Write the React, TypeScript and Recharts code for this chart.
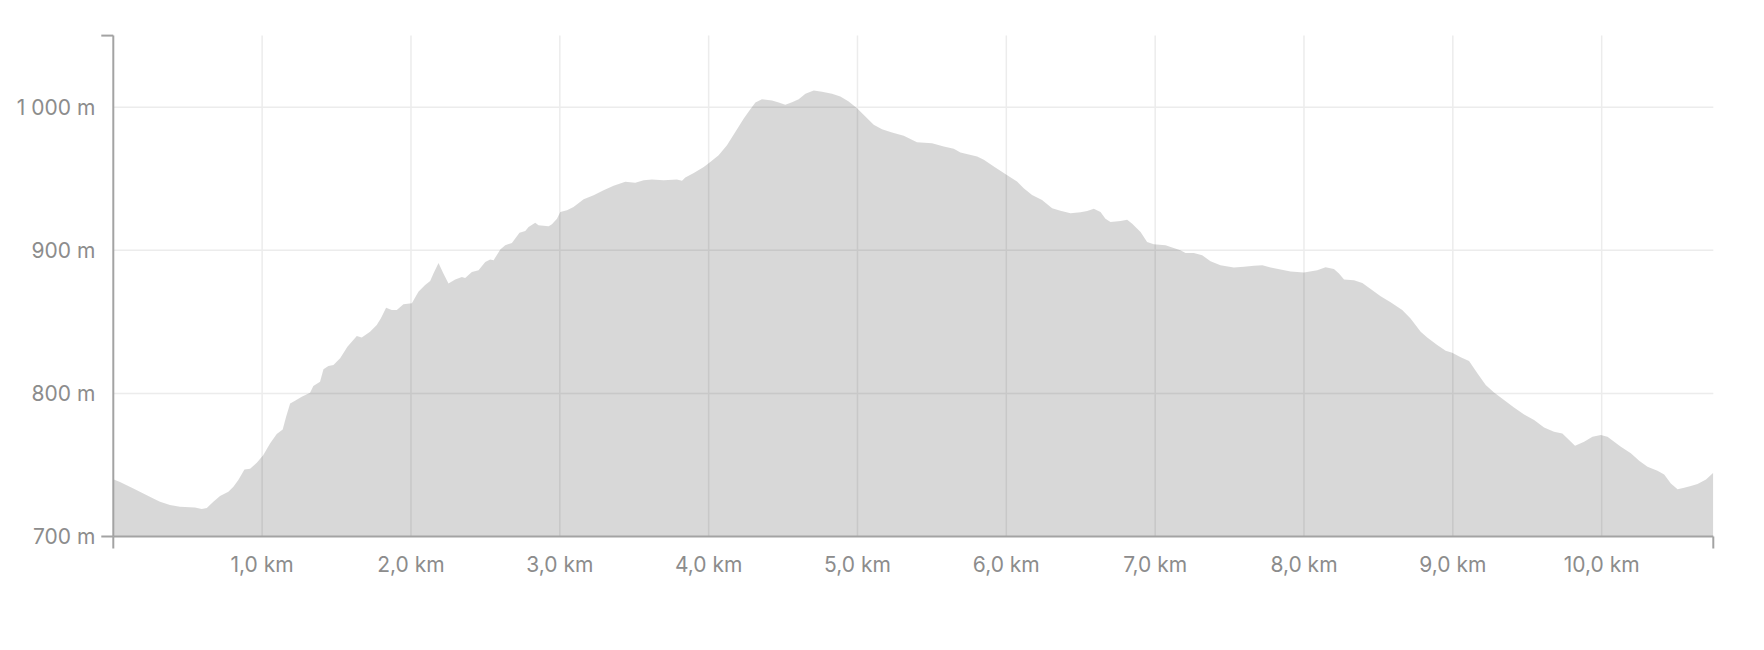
import React from "react";
import { AreaChart, Area, XAxis, YAxis, CartesianGrid } from "recharts";

const distancesKm = [
  0, 0.045, 0.135, 0.202, 0.269, 0.314, 0.381, 0.448, 0.549, 0.594, 0.628, 0.672, 0.717, 0.773, 0.807, 0.84, 0.881, 0.919, 0.964,
  1.008, 1.053, 1.098, 1.138, 1.161, 1.188, 1.221, 1.266, 1.322, 1.344, 1.389, 1.412, 1.445, 1.479, 1.524, 1.573, 1.636, 1.669,
  1.725, 1.77, 1.797, 1.833, 1.871, 1.905, 1.949, 2.006, 2.05, 2.095, 2.129, 2.151, 2.185, 2.218, 2.252, 2.297, 2.342, 2.364,
  2.409, 2.454, 2.499, 2.532, 2.555, 2.6, 2.633, 2.678, 2.729, 2.768, 2.79, 2.835, 2.857, 2.925, 2.947, 2.981, 3.003, 3.048,
  3.092, 3.16, 3.227, 3.294, 3.361, 3.44, 3.507, 3.563, 3.619, 3.698, 3.787, 3.821, 3.843, 3.9, 3.967, 4.011, 4.067, 4.123,
  4.179, 4.236, 4.28, 4.314, 4.358, 4.426, 4.471, 4.515, 4.56, 4.605, 4.65, 4.706, 4.762, 4.829, 4.885, 4.941, 4.997, 5.053,
  5.109, 5.165, 5.232, 5.311, 5.4, 5.501, 5.58, 5.647, 5.692, 5.804, 5.849, 5.916, 6.001, 6.072, 6.117, 6.173, 6.24, 6.308,
  6.364, 6.431, 6.498, 6.543, 6.588, 6.633, 6.666, 6.7, 6.767, 6.812, 6.846, 6.902, 6.946, 6.991, 7.07, 7.114, 7.17, 7.204,
  7.26, 7.316, 7.372, 7.439, 7.529, 7.596, 7.663, 7.72, 7.776, 7.843, 7.91, 8.0, 8.089, 8.145, 8.201, 8.235, 8.269, 8.336,
  8.392, 8.448, 8.515, 8.582, 8.66, 8.716, 8.784, 8.828, 8.895, 8.952, 8.996, 9.053, 9.109, 9.165, 9.221, 9.277, 9.344,
  9.411, 9.479, 9.546, 9.613, 9.68, 9.736, 9.781, 9.821, 9.882, 9.938, 9.994, 10.039, 10.129, 10.196, 10.252, 10.308,
  10.375, 10.42, 10.465, 10.51, 10.554, 10.599, 10.644, 10.701, 10.75,
];

const elevationsM = [
  740, 738, 733.6, 730, 726.6, 724.3, 722, 720.8, 720.3, 719.2, 720, 724.3, 728.3, 731.3, 734.8, 739.4, 746.9, 747.4, 751.5,
  756.9, 765, 771.6, 774.8, 783.7, 793, 794.9, 797.7, 800.5, 805.1, 808.2, 816.8, 819.1, 819.8, 824.5, 832.6, 840.1, 839.1,
  843.1, 847.8, 852.4, 859.9, 858.2, 858.2, 862.2, 862.9, 871, 875.7, 878.5, 883.7, 891.1, 883.7, 876.7, 879.5, 881.4, 880.7,
  884.9, 886, 891.8, 893.5, 893, 900.5, 903.5, 905.1, 912.3, 913.5, 916.3, 919.3, 917.5, 916.8, 918.2, 922.1, 926.8, 928,
  930.3, 935.6, 938.4, 941.9, 945, 947.8, 947.1, 948.9, 949.4, 948.9, 949.4, 948.5, 950.8, 954, 958.2, 961.7, 966.4, 973.4,
  982.7, 992, 998.5, 1003.3, 1005.6, 1004.7, 1003.3, 1001.6, 1003.5, 1005.6, 1009.3, 1011.6, 1010.7, 1009.3, 1007.5, 1004, 999.3, 993.5,
  987.7, 984.6, 982.3, 980, 975.5, 974.8, 972.5, 970.9, 968.3, 965.5, 963.2, 958.5, 952.7, 948.1, 943.4, 938.7, 935.2, 929.4,
  927.6, 925.8, 926.6, 927.5, 929.1, 926.8, 922.1, 919.8, 920.5, 921.4, 918.6, 912.8, 905.8, 904.2, 903.5, 901.9, 900, 898.1,
  898.1, 896.5, 892.3, 889.5, 887.9, 888.4, 889.1, 889.5, 887.9, 886.5, 885.1, 884.4, 886, 888.1, 887, 883.7, 879.5, 879,
  877.2, 873, 867.9, 863.6, 858.2, 852.4, 843.1, 839.1, 833.8, 829.8, 828.4, 825.2, 822.6, 814, 805.8, 800.7, 795.3,
  790.2, 785.3, 781.4, 776.2, 773.2, 772, 767.4, 763.4, 766.2, 769.7, 770.9, 769.7, 762.7, 758.1, 752.9, 748.8,
  746, 743.4, 737.1, 733.1, 734.1, 735.2, 736.6, 739.9, 744.6,
];

const xTicks = [0, 1, 2, 3, 4, 5, 6, 7, 8, 9, 10, 10.75];
const xGridValues = [1, 2, 3, 4, 5, 6, 7, 8, 9, 10];
const yTicks = [700, 800, 900, 1000, 1050];
const yGridValues = [800, 900, 1000];
const xDomain = [0, 10.75];
const yDomain = [700, 1050];

const data = distancesKm.map((km, i) => ({ km, ele: elevationsM[i] }));

const AXIS_COLOR = "#a3a3a3";
const LABEL_COLOR = "#8c8c8c";
const FONT = "Inter, 'Noto Sans', sans-serif";

const fmtKm = (v: number) => v.toFixed(1).replace(".", ",") + " km";
const fmtM = (v: number) => {
  const s = String(Math.round(v));
  const t = s.length > 3 ? s.slice(0, s.length - 3) + "\u00A0" + s.slice(s.length - 3) : s;
  return t + " m";
};

const XTick = (props: any) => {
  const { x, y, payload } = props;
  const v = payload.value;
  if (v === xDomain[0] || v === xDomain[1]) {
    return <line x1={x} x2={x} y1={y} y2={y + 12} stroke={AXIS_COLOR} strokeWidth={2} />;
  }
  return (
    <text x={x} y={y + 35} textAnchor="middle" fill={LABEL_COLOR} fontSize={21} fontFamily={FONT}>
      {fmtKm(v)}
    </text>
  );
};

const YTick = (props: any) => {
  const { x, y, payload } = props;
  const v = payload.value;
  const parts: any[] = [];
  if (v === yDomain[0] || v === yDomain[1]) {
    parts.push(<line key="l" x1={x} x2={x - 12} y1={y} y2={y} stroke={AXIS_COLOR} strokeWidth={2} />);
  }
  if (v !== yDomain[1]) {
    parts.push(
      <text
        key="t"
        x={x - 18}
        y={y + 7.8}
        textAnchor="end"
        fill={LABEL_COLOR}
        fontSize={21}
        fontFamily={FONT}
        style={{ whiteSpace: "pre" }}
      >
        {fmtM(v)}
      </text>
    );
  }
  return <g>{parts}</g>;
};

export default function App() {
  return (
    <div>
      <AreaChart
        width={1748}
        height={600}
        data={data}
        margin={{ top: 27.6, right: 42.7, bottom: 31.5, left: 0 }}
      >
        <CartesianGrid
          stroke="#ececec"
          strokeWidth={1.5}
          horizontalValues={yGridValues}
          verticalValues={xGridValues}
        />
        <XAxis
          type="number"
          dataKey="km"
          domain={xDomain}
          ticks={xTicks}
          interval={0}
          tickSize={0}
          tickMargin={0}
          tickLine={false}
          height={40}
          axisLine={{ stroke: AXIS_COLOR, strokeWidth: 2 }}
          tick={<XTick />}
          allowDataOverflow
        />
        <YAxis
          type="number"
          domain={yDomain}
          ticks={yTicks}
          interval={0}
          tickSize={0}
          tickMargin={0}
          tickLine={false}
          width={105.3}
          axisLine={{ stroke: AXIS_COLOR, strokeWidth: 2 }}
          tick={<YTick />}
          allowDataOverflow
        />
        <Area
          type="linear"
          dataKey="ele"
          stroke="none"
          fill="#000000"
          fillOpacity={0.153}
          isAnimationActive={false}
          dot={false}
          activeDot={false}
        />
      </AreaChart>
    </div>
  );
}
